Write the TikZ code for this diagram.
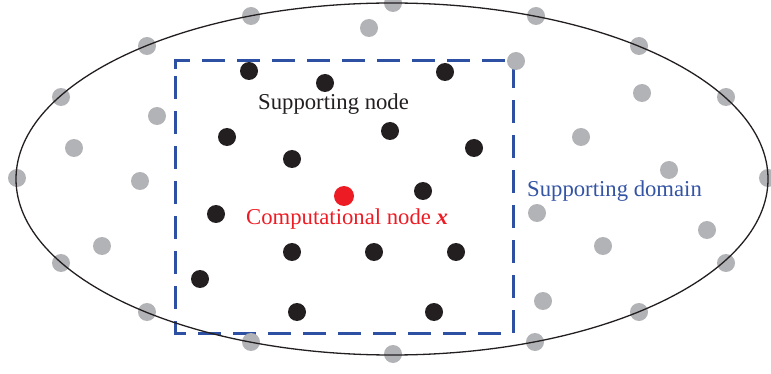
\documentclass[tikz,border=0pt]{standalone}
\usepackage{fontspec}
\setmainfont{Liberation Serif}
\definecolor{domainblue}{RGB}{46,80,162}
\definecolor{labelblue}{RGB}{52,84,164}
\definecolor{compred}{RGB}{237,28,36}
\definecolor{fieldgray}{RGB}{178,179,182}
\definecolor{nodeblack}{RGB}{35,31,32}
\begin{document}
\begin{tikzpicture}[x=1pt,y=-1pt,
  fielddot/.style={circle,fill=fieldgray,inner sep=0pt,minimum size=18pt},
  supdot/.style={circle,fill=nodeblack,inner sep=0pt,minimum size=18pt},
  compdot/.style={circle,fill=compred,inner sep=0pt,minimum size=20pt},
  lbl/.style={anchor=base west,inner sep=0pt,font=\fontsize{22.7}{27}\selectfont}]
\useasboundingbox (0,0) rectangle (771,374);

% supporting domain (dashed box)
\draw[domainblue,line width=3pt,dash pattern=on 23pt off 12pt]
  (175,69) -- (175,61) -- (513,61) -- (513,333) -- (175,333) -- cycle;

% field nodes of the whole domain
\foreach \px/\py [count=\i] in {393/3,251/16,536/16,369/28,147/46,639/46,516/61,
  642/93,61/97,726/97,157/116,581/137,74/148,669/170,17/178,768/178,140/181,
  537/213,707/230,102/246,603/246,61/263,726/263,543/301,147/312,639/312,
  251/342,535/342,393/354}
  \node[fielddot] (g\i) at (\px,\py) {};

% problem boundary
\draw[line width=1.3pt,nodeblack] (392,179) ellipse [x radius=376pt, y radius=176pt];

% supporting nodes
\foreach \px/\py [count=\i] in {249/71,325/83,445/72,227/137,390/131,474/148,
  292/159,423/191,216/214,292/252,374/252,456/252,200/279,297/312,434/312}
  \node[supdot] (s\i) at (\px,\py) {};

% computational node
\node[compdot] (x) at (344,196) {};

% labels
\node[lbl,text=nodeblack] (supnode) at (258,110) {Supporting node};
\node[lbl,text=compred] (compnode) at (246,225) {Computational node \textbf{\textit{x}}};
\node[lbl,text=labelblue] (supdomain) at (527,197) {Supporting domain};
\end{tikzpicture}
\end{document}
